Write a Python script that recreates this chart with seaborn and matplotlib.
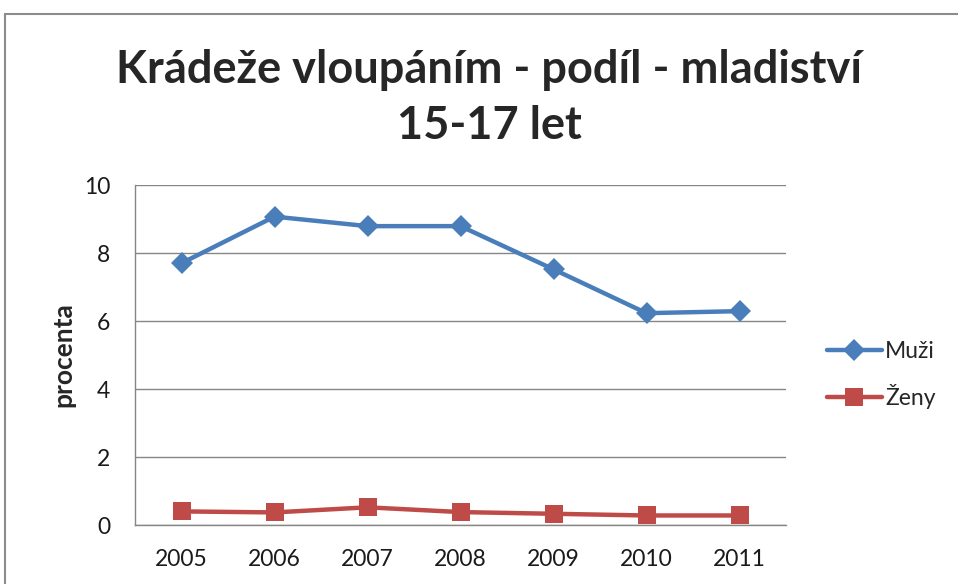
import matplotlib
matplotlib.use("Agg")
import matplotlib.pyplot as plt
import seaborn as sns
import pandas as pd
from matplotlib.patches import Rectangle

years = ["2005", "2006", "2007", "2008", "2009", "2010", "2011"]
muzi = [7.70, 9.07, 8.79, 8.79, 7.52, 6.23, 6.29]
zeny = [0.40, 0.37, 0.52, 0.38, 0.33, 0.28, 0.28]
series_names = ["Muži", "Ženy"]
y_ticks = [0, 2, 4, 6, 8, 10]

df = pd.DataFrame({
    "rok": years * 2,
    "procenta": muzi + zeny,
    "pohlaví": [series_names[0]] * len(years) + [series_names[1]] * len(years),
})

sns.set_theme(style="white")
plt.rcParams["font.family"] = ["Lato", "DejaVu Sans"]

fig = plt.figure(figsize=(9.58, 5.84), dpi=100)
W, H = 958, 584
ax = fig.add_axes([135 / W, 1 - 525 / H, (786 - 135) / W, (525 - 185) / H])

# chart frame
fig.patches.append(Rectangle((5 / W, -0.1), 1.2, 1.1 - 14 / H, transform=fig.transFigure,
                             fill=False, edgecolor="#8c8c8c", linewidth=1.5))

palette = {"Muži": "#4A7EBB", "Ženy": "#BE4B48"}
markers = {"Muži": "D", "Ženy": "s"}
sizes = {"Muži": 11, "Ženy": 12.5}
for name in series_names:
    sub = df[df["pohlaví"] == name]
    sns.lineplot(data=sub, x="rok", y="procenta", ax=ax, color=palette[name],
                 marker=markers[name], markersize=sizes[name], markeredgewidth=0,
                 linewidth=3.2, label=name, sort=False)

ax.set_xlim(-0.5, len(years) - 0.5)
ax.set_ylim(0, 10)
ax.set_yticks(y_ticks)
ax.set_yticklabels([str(t) for t in y_ticks])
ax.grid(axis="y", color="#868686", linewidth=1)
ax.set_axisbelow(True)
for s in ["top", "right"]:
    ax.spines[s].set_visible(False)
ax.spines["left"].set_color("#868686")
ax.spines["bottom"].set_color("#868686")
ax.spines["left"].set_linewidth(1)
ax.spines["bottom"].set_linewidth(1)
ax.tick_params(axis="both", length=0, labelsize=16.5, colors="#1a1a1a")
ax.tick_params(axis="y", pad=18)
ax.tick_params(axis="x", pad=17)
ax.set_xlabel("")
ax.set_ylabel("procenta", fontsize=19, fontweight="bold", labelpad=6)

fig.text(489 / W, 1 - 98 / H, "Krádeže vloupáním - podíl - mladiství\n15-17 let",
         ha="center", va="center", fontsize=32.5, fontweight="bold", linespacing=1.4)

leg = ax.legend(loc="center left", bbox_to_anchor=(806 / W, 1 - 375 / H),
                bbox_transform=fig.transFigure, frameon=False, fontsize=16.5,
                handlelength=2.4, labelspacing=1.0, handletextpad=0.15)

fig.savefig("out.png", dpi=100)
